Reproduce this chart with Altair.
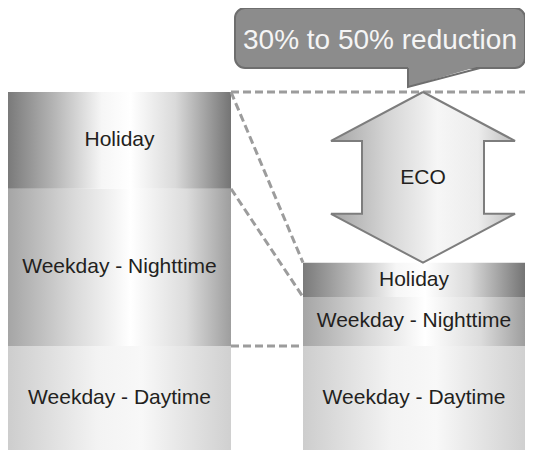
import altair as alt
import pandas as pd

# ---- data ----
segments = ["Weekday - Daytime", "Weekday - Nighttime", "Holiday"]
before_values = [100, 151, 93]   # stacked from bottom
after_values = [100, 47, 33]
callout_text = "30% to 50% reduction"
arrow_text = "ECO"

# ---- layout (plot units) ----
W, H = 517, 442
PX = 358 / 344                 # pixels per value unit
Y_MAX = H / PX
BAR_X = {"Before": (0, 223), "After": (295, W)}
ARROW_CX, ARROW_HEAD_HW, ARROW_SHAFT_HW, ARROW_HEAD_LEN = 415, 92, 61, 47

FONT = "Liberation Sans"


def ypx(p):  # pixel row (page coords) -> value units, for annotations only
    return (H + 8 - p) / PX


rows = []
for bar, vals in (("Before", before_values), ("After", after_values)):
    acc = 0
    for seg, v in zip(segments, vals):
        x0, x1 = BAR_X[bar]
        rows.append(dict(bar=bar, segment=seg, y0=acc, y1=acc + v,
                         ymid=acc + v / 2, x0=x0, x1=x1, xmid=(x0 + x1) / 2))
        acc += v
bars = pd.DataFrame(rows)

left_top = sum(before_values)
right_top = sum(after_values)
left_hol_bottom = before_values[0] + before_values[1]
right_hol_bottom = after_values[0] + after_values[1]

xs = alt.Scale(domain=[0, W], nice=False, zero=False)
ys = alt.Scale(domain=[0, Y_MAX], nice=False, zero=False)


def X(f):
    return alt.X(f, type="quantitative", scale=xs, axis=None, stack=None)


def Y(f):
    return alt.Y(f, type="quantitative", scale=ys, axis=None, stack=None)


def grad(stops):
    return alt.LinearGradient(
        gradient="linear", x1=0, x2=1, y1=0, y2=0,
        stops=[alt.GradientStop(offset=o, color=c) for o, c in stops])


def hex2rgb(h):
    return [int(h[i:i + 2], 16) for i in (1, 3, 5)]


def color_at(stops, t):
    for (o0, c0), (o1, c1) in zip(stops, stops[1:]):
        if o0 <= t <= o1:
            f = 0 if o1 == o0 else (t - o0) / (o1 - o0)
            a, b = hex2rgb(c0), hex2rgb(c1)
            return "#" + "".join(f"{round(a[i] + (b[i] - a[i]) * f):02x}" for i in range(3))
    return stops[-1][1]


def sub_stops(stops, t0, t1):
    out = [(0, color_at(stops, t0))]
    for o, col in stops:
        if t0 < o < t1:
            out.append(((o - t0) / (t1 - t0), col))
    out.append((1, color_at(stops, t1)))
    return out


grads = {
    "Holiday": grad([(0, "#7a7a7a"), (0.2, "#b3b3b3"), (0.42, "#f6f6f6"),
                     (0.55, "#ffffff"), (0.75, "#dadada"), (1, "#747474")]),
    "Weekday - Nighttime": grad([(0, "#a5a5a5"), (0.3, "#dadada"), (0.55, "#ffffff"),
                                 (0.8, "#dcdcdc"), (1, "#9e9e9e")]),
    "Weekday - Daytime": grad([(0, "#cdcdcd"), (0.4, "#f3f3f3"), (0.6, "#f8f8f8"),
                               (1, "#d0d0d0")]),
}

base = alt.Chart(bars)
layers = []
for seg in segments:
    layers.append(
        base.transform_filter(alt.datum.segment == seg)
        .mark_rect(fill=grads[seg], strokeWidth=0)
        .encode(x=X("x0"), x2="x1", y=Y("y0"), y2="y1")
    )

# dashed connectors
lines = pd.DataFrame([
    dict(x=BAR_X["Before"][1], x2=BAR_X["After"][0], y=left_top, y2=right_top),
    dict(x=BAR_X["Before"][1], x2=BAR_X["After"][0], y=left_hol_bottom, y2=right_hol_bottom),
    dict(x=BAR_X["Before"][1], x2=BAR_X["After"][0], y=before_values[0], y2=after_values[0]),
    dict(x=BAR_X["Before"][1], x2=W, y=left_top, y2=left_top),
])
layers.append(
    alt.Chart(lines).mark_rule(strokeDash=[8, 4], strokeWidth=3, color="#9c9c9c")
    .encode(x=X("x"), x2="x2", y=Y("y"), y2="y2")
)

# double arrow, from left total down to right total
c, hw, sw, hl = ARROW_CX, ARROW_HEAD_HW, ARROW_SHAFT_HW, ARROW_HEAD_LEN
ARROW_STOPS = [(0, "#a4a4a4"), (0.3, "#d4d4d4"), (0.58, "#f6f6f6"), (0.8, "#ececec"), (1, "#bcbcbc")]
t0 = (hw - sw) / (2 * hw)
shaft_fill = grad(sub_stops(ARROW_STOPS, t0, 1 - t0))
head_fill = grad(ARROW_STOPS)
top_head = pd.DataFrame([
    dict(x=c - hw, y=left_top - hl, y2=left_top - hl),
    dict(x=c, y=left_top, y2=left_top - hl),
    dict(x=c + hw, y=left_top - hl, y2=left_top - hl),
])
bot_head = pd.DataFrame([
    dict(x=c - hw, y=right_top + hl, y2=right_top + hl),
    dict(x=c, y=right_top, y2=right_top + hl),
    dict(x=c + hw, y=right_top + hl, y2=right_top + hl),
])
shaft = pd.DataFrame([dict(x=c - sw, x2=c + sw, y=right_top + hl - 3, y2=left_top - hl + 3)])
for df in (top_head, bot_head):
    layers.append(
        alt.Chart(df).mark_area(fill=head_fill, strokeWidth=0)
        .encode(x=X("x"), y=Y("y"), y2="y2")
    )
layers.append(
    alt.Chart(shaft).mark_rect(fill=shaft_fill, strokeWidth=0)
    .encode(x=X("x"), x2="x2", y=Y("y"), y2="y2")
)
outline = pd.DataFrame([
    (0, c, left_top), (1, c + hw, left_top - hl), (2, c + sw, left_top - hl),
    (3, c + sw, right_top + hl), (4, c + hw, right_top + hl), (5, c, right_top),
    (6, c - hw, right_top + hl), (7, c - sw, right_top + hl), (8, c - sw, left_top - hl),
    (9, c - hw, left_top - hl), (10, c, left_top),
], columns=["o", "x", "y"])
layers.append(
    alt.Chart(outline).mark_line(color="#7d7d7d", strokeWidth=2, strokeJoin="miter")
    .encode(x=X("x"), y=Y("y"), order="o:Q")
)
layers.append(
    alt.Chart(pd.DataFrame([dict(t=arrow_text, x=c, y=(left_top + right_top) / 2 - 1)]))
    .mark_text(font=FONT, fontSize=21, color="#231f20")
    .encode(x=X("x"), y=Y("y"), text="t:N")
)

# callout
BOX = dict(x=227, x2=W, y=ypx(8), y2=ypx(68))
TAIL_L, TAIL_R, TAIL_TIP = 400, 472, ypx(87)
layers.append(
    alt.Chart(pd.DataFrame([BOX])).mark_rect(cornerRadius=10, fill="#8c8c8c",
                                             stroke="#6e6e6e", strokeWidth=2)
    .encode(x=X("x"), x2="x2", y=Y("y"), y2="y2")
)
tail = pd.DataFrame([
    dict(x=TAIL_L, y=BOX["y2"] + 2, y2=TAIL_TIP),
    dict(x=TAIL_R, y=BOX["y2"] + 2, y2=BOX["y2"] + 2),
])
layers.append(
    alt.Chart(tail).mark_area(fill="#8c8c8c", strokeWidth=0)
    .encode(x=X("x"), y=Y("y"), y2="y2")
)
tail_line = pd.DataFrame([
    (0, TAIL_L, BOX["y2"]), (1, TAIL_L, TAIL_TIP), (2, TAIL_R, BOX["y2"]),
], columns=["o", "x", "y"])
layers.append(
    alt.Chart(tail_line).mark_line(color="#6e6e6e", strokeWidth=2, strokeJoin="miter")
    .encode(x=X("x"), y=Y("y"), order="o:Q")
)
layers.append(
    alt.Chart(pd.DataFrame([dict(t=callout_text, x=372, y=ypx(41))]))
    .mark_text(font=FONT, fontSize=28, color="#f5f5f5")
    .encode(x=X("x"), y=Y("y"), text="t:N")
)

# bar labels
layers.append(
    base.mark_text(font=FONT, fontSize=21, color="#231f20")
    .encode(x=X("xmid"), y=Y("ymid"), text="segment:N")
)

chart = alt.layer(*layers).properties(
    width=W, height=H, padding=0, autosize="none", background="white"
).configure_view(strokeWidth=0)

chart.save("out.html", embed_options={"renderer": "svg", "actions": False})
